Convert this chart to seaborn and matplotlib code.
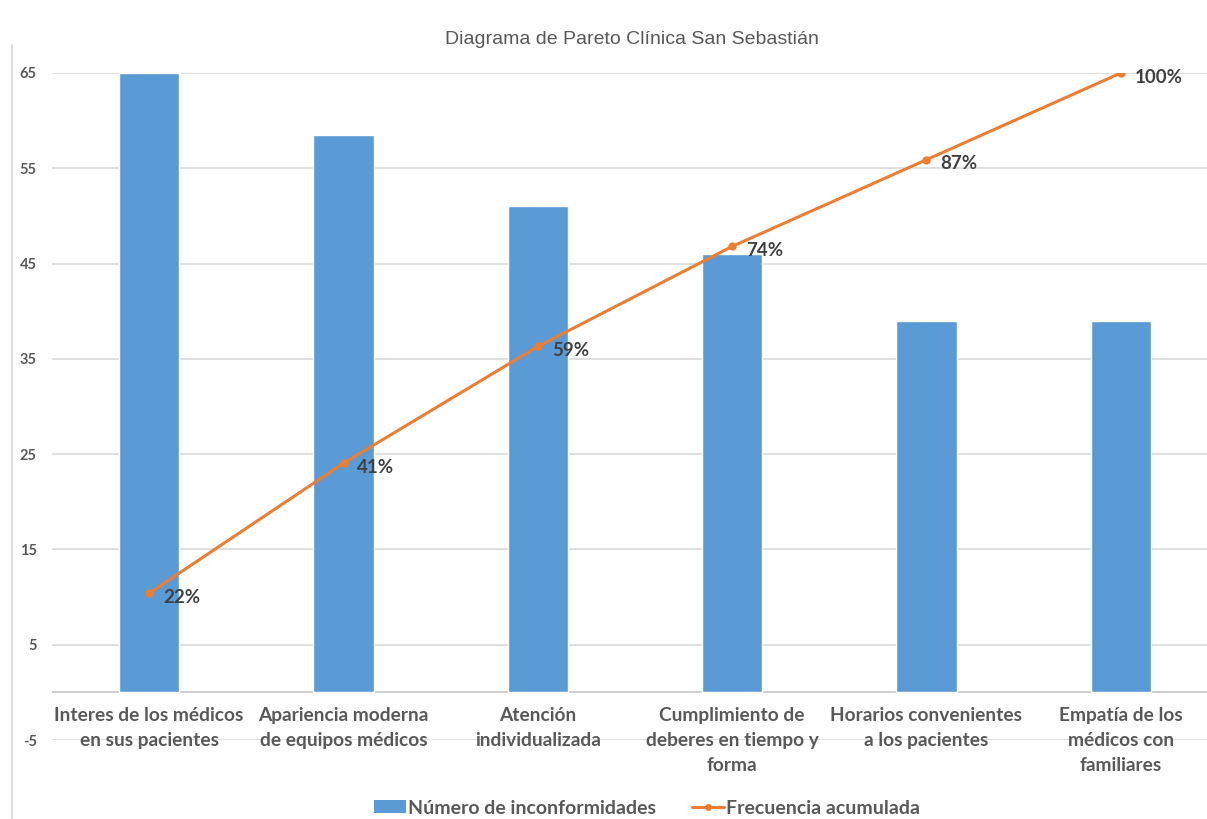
import matplotlib
matplotlib.use("Agg")
import matplotlib.pyplot as plt
from matplotlib.lines import Line2D
from matplotlib.patches import Patch
import seaborn as sns
import numpy as np
import pandas as pd

categories = [
    "Interes de los médicos\nen sus pacientes",
    "Apariencia moderna\nde equipos médicos",
    "Atención\nindividualizada",
    "Cumplimiento de\ndeberes en tiempo y\nforma",
    "Horarios convenientes\na los pacientes",
    "Empatía de los\nmédicos con\nfamiliares",
]
inconformidades = [65, 58.5, 51, 46, 39, 39]
frecuencia_acumulada = [22, 41.5, 59, 74, 87, 100]
pct_labels = ["22%", "41%", "59%", "74%", "87%", "100%"]
yticks = [-5, 5, 15, 25, 35, 45, 55, 65]

BLUE = "#5B9BD5"
ORANGE = "#ED7D31"
GRAY = "#595959"

sns.set_style("white")
fam = ["Lato", "DejaVu Sans"]
plt.rcParams["font.family"] = fam

W, H = 1207, 819
fig = plt.figure(figsize=(W / 100, H / 100), dpi=100)
left_px, right_px, top_px, bot_px = 52, 1218, 73, 740
ax = fig.add_axes([left_px / W, 1 - bot_px / H, (right_px - left_px) / W, (bot_px - top_px) / H])

df = pd.DataFrame({"cat": categories, "val": inconformidades})
sns.barplot(data=df, x="cat", y="val", color=BLUE, width=0.31, ax=ax, saturation=1, zorder=3)
ax.set_xlim(-0.5, 5.5)
ax.set_ylim(-5, 65)
ax.set_yticks(yticks)
ax.set_yticklabels([str(t) for t in yticks], fontsize=10.5, color=GRAY, fontweight="bold")
ax.tick_params(axis="y", length=0, pad=11)
ax.tick_params(axis="x", length=0, pad=-24)
for lbl in ax.get_xticklabels():
    lbl.set_fontsize(13.8)
    lbl.set_color(GRAY)
    lbl.set_fontweight("bold")
    lbl.set_linespacing(1.6)
    lbl.set_verticalalignment("top")
ax.set_xlabel("")
ax.set_ylabel("")
for t in yticks:
    ax.axhline(t, color="#d9d9d9", lw=1.2, zorder=0)
ax.axhline(0, color="#d0d0d0", lw=1.5, zorder=1)
for s in ax.spines.values():
    s.set_visible(False)

ax2 = ax.twinx()
sns.lineplot(x=np.arange(len(categories)), y=frecuencia_acumulada, color=ORANGE, lw=2.2,
             marker="o", markersize=6, markeredgewidth=0, ax=ax2, zorder=5)
ax2.set_ylim(0, 100)
ax2.set_yticks([])
ax2.set_ylabel("")
for s in ax2.spines.values():
    s.set_visible(False)
for i, (v, lab) in enumerate(zip(frecuencia_acumulada, pct_labels)):
    ax2.annotate(lab, (i, v), xytext=(10, -3), textcoords="offset points", ha="left", va="center",
                 fontsize=13.5, fontweight="bold", color="#404040", zorder=6)

fig.text(632 / W, 1 - 40 / H, "Diagrama de Pareto Clínica San Sebastián", ha="center", va="center",
         fontsize=14, color=GRAY, family=["Liberation Sans", "DejaVu Sans"])

# chart border on the left
fig.add_artist(Line2D([12 / W, 12 / W], [0, 1 - 45 / H], color="#d9d9d9", lw=1.2))

handles = [
    Patch(facecolor=BLUE, edgecolor="none", label="Número de inconformidades"),
    Line2D([0], [0], color=ORANGE, lw=2.2, marker="o", markersize=5, markeredgewidth=0,
           label="Frecuencia acumulada"),
]
leg = fig.legend(handles=handles, loc="center", bbox_to_anchor=(647 / W, 1 - 808 / H), ncol=2,
                 frameon=False, fontsize=14, handlelength=1.6, handleheight=0.6,
                 columnspacing=1.9, handletextpad=0.1)
for t in leg.get_texts():
    t.set_color(GRAY)
    t.set_fontweight("bold")

fig.savefig("out.png", dpi=100)
